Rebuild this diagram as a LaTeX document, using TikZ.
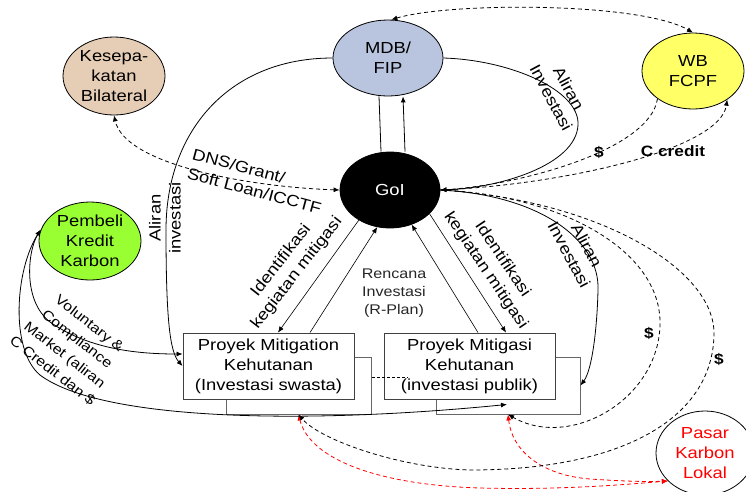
\documentclass[tikz,border=0pt]{standalone}
\usepackage{fontspec}
\setmainfont[FakeStretch=1.15]{Liberation Sans}
\usetikzlibrary{arrows.meta,shapes.geometric,calc}

\definecolor{kescol}{HTML}{E6CDB5}
\definecolor{mdbcol}{HTML}{B9C4DE}
\definecolor{wbcol}{HTML}{FFFF66}
\definecolor{pemcol}{HTML}{99FF33}

\newcommand\mainfs{\fontsize{16}{20}\selectfont}
\newcommand\smallfs{\fontsize{14}{18}\selectfont}
\newcommand\vcfs{\fontsize{14}{20}\selectfont}

\tikzset{
  blob/.style={ellipse, draw, line width=0.8pt, inner sep=0pt, align=center, font=\mainfs},
  projbox/.style={rectangle, draw=black!75, line width=0.9pt, fill=white,
    minimum width=171pt, minimum height=66pt, inner sep=0pt, align=center, font=\mainfs},
  backbox/.style={rectangle, draw=black!60, line width=0.9pt, fill=white, inner sep=0pt},
  tip/.tip={Latex[length=6pt,width=5pt]},
  flow/.style={line width=0.8pt, -tip},
  thinflow/.style={line width=0.6pt, -tip},
  dflow/.style={line width=0.8pt, dash pattern=on 4pt off 3pt},
  rflow/.style={line width=0.8pt, dash pattern=on 4pt off 3pt, red, tip-tip},
  lbl/.style={inner sep=0pt, align=center, font=\mainfs},
  money/.style={inner sep=0pt, font=\bfseries\fontsize{15}{18}\selectfont},
}

\begin{document}
\begin{tikzpicture}[x=1pt,y=-1pt]
\useasboundingbox (0,0) rectangle (746,491);
\clip (0,0) rectangle (746,491);

% actors
\node[blob, fill=kescol, minimum width=102pt, minimum height=78pt] (kes) at (114,76) {Kesepa-\\katan\\Bilateral};
\node[blob, fill=mdbcol, minimum width=110pt, minimum height=76pt] (mdb) at (388,58) {MDB/\\FIP};
\node[blob, fill=wbcol, minimum width=102pt, minimum height=76pt] (wb) at (693,71) {WB\\FCPF};
\node[blob, fill=black, text=white, minimum width=100pt, minimum height=76pt] (goi) at (390,190) {GoI};
\node[blob, fill=pemcol, minimum width=102pt, minimum height=78pt] (pem) at (90,241) {Pembeli\\Kredit\\Karbon};
\node[blob, fill=white, text=red, minimum width=98pt, minimum height=84pt] (pasar) at (705,453) {Pasar\\Karbon\\Lokal};

% project boxes (stacked)
\node[backbox, minimum width=145pt, minimum height=57pt] (sw2) at (298.5,385.5) {};
\node[backbox, minimum width=144pt, minimum height=57pt] (pb2) at (508,385.5) {};
\node[projbox] (sw) at (268.5,366) {Proyek Mitigation\\Kehutanan\\(Investasi swasta)};
\node[projbox] (pb) at (469.5,366) {Proyek Mitigasi\\Kehutanan\\(investasi publik)};

\coordinate (pbC) at ($(pb2.south)+(-1,-10)$);

% local carbon market links
\draw[rflow] (sw2.south) .. controls (310,460) and (380,485) .. (480,488)
  .. controls (560,490) and (620,485) .. (pasar.217);
\draw[rflow] (pb2.south) .. controls (512,450) and (540,475) .. (590,479)
  .. controls (620,481) and (645,482) .. (pasar.217);

% MDB <-> GoI
\draw[line width=0.8pt] ($(mdb.south)+(-9,0)$) -- ($(goi.north)+(-9,0)$);
\draw[flow] ($(goi.north)+(15,0)$) -- ($(mdb.south)+(15,0)$);

% investment flows
\draw[flow] (mdb.west) .. controls (230,58) and (166,130) .. (166,230)
  .. controls (166,320) and (170,352) .. (sw.west);
\draw[flow] (mdb.east) .. controls (510,60) and (580,90) .. (578,125)
  .. controls (576,165) and (500,188) .. (goi.east);
\draw[flow] (goi.east) .. controls (540,195) and (600,240) .. (598,290)
  .. controls (597,330) and (592,370) .. (pb2.east);

% identification of mitigation activities
\draw[thinflow] (goi.224) -- ($(sw.north)+(9.5,0)$);
\draw[thinflow] ($(sw.north)+(41.5,0)$) -- (goi.251);
\draw[thinflow] ($(pb.north)+(8.5,0)$) -- (goi.302);
\draw[thinflow] (goi.329) -- ($(pb.north)+(36.5,0)$);

% dashed financial links
\draw[dflow, tip-tip] (goi.west) .. controls (250,187) and (125,165) .. (kes.south);
\draw[dflow, tip-tip] (mdb.85) .. controls (450,2) and (640,2) .. (wb.north);
\draw[dflow, -tip] (wb.218) .. controls (650,150) and (520,185) .. (goi.east);
\draw[dflow, -tip] (goi.east) .. controls (560,185) and (720,150) .. (wb.320);
\draw[dflow, -tip] (goi.east) .. controls (560,195) and (662,250) .. (660,325)
  .. controls (658,400) and (570,450) .. (pb2.south);
\draw[dflow, -tip] (goi.east) .. controls (600,200) and (716,270) .. (714,335)
  .. controls (712,420) and (620,470) .. (470,470)
  .. controls (400,468) and (320,440) .. (sw2.south);

% carbon buyers
\draw[line width=0.8pt, tip-tip] (pem.167) .. controls (28,250) and (22,300) .. (50,322)
  .. controls (90,350) and (140,354) .. ($(sw.west)+(0,-12)$);
\draw[line width=0.8pt, tip-tip] (pem.167) .. controls (15,270) and (10,350) .. (40,375)
  .. controls (100,420) and (300,425) .. (pbC);

% link between the two projects
\draw[line width=0.6pt, dash pattern=on 3pt off 2pt] ($(sw2.east)+(1,-8.5)$) -- ++(36,0);

% labels
\node[lbl, rotate=90] (l1) at (165,218) {Aliran\\investasi};
\node[lbl, rotate=-62] (l2) at (560,93) {Aliran\\Investasi};
\node[lbl, rotate=-62] (l3) at (578,250) {Aliran\\Investasi};
\node[lbl, rotate=52] (l4) at (289,267) {Identifikasi\\kegiatan mitigasi};
\node[lbl, rotate=-56] (l5) at (494,265) {Identifikasi\\kegiatan mitigasi};
\node[lbl, font=\smallfs, text=black!85] (l6) at (394,293) {Rencana\\Investasi\\(R-Plan)};
\node[lbl, align=left, rotate=-15] (l7) at (257,181) {DNS/Grant/\\Soft Loan/ICCTF};
\node[lbl, font=\vcfs, rotate=-38] (l8) at (71,347) {Voluntary \&\\Compliance\\Market (aliran\\C Credit dan \$};
\node[money] (m1) at (599,152) {\$};
\node[money] (m2) at (673,151) {C credit};
\node[money] (m3) at (649,333) {\$};
\node[money] (m4) at (719,359) {\$};
\end{tikzpicture}
\end{document}
